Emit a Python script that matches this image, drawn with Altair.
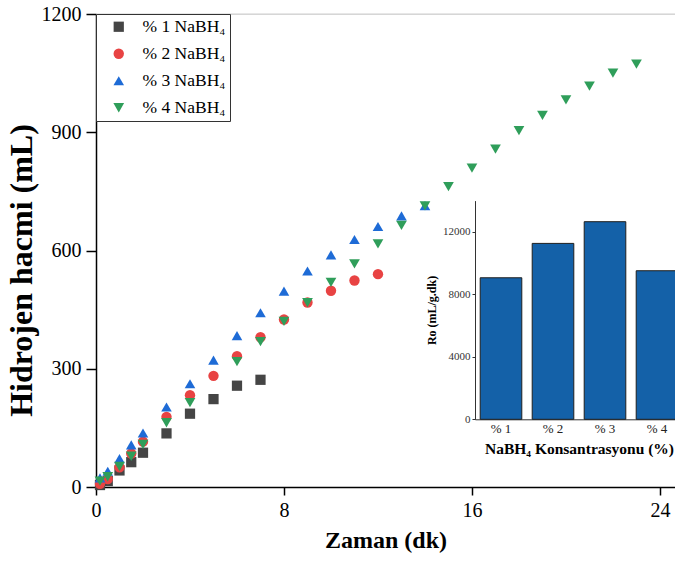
import altair as alt
import pandas as pd

# ---- main scatter data ----
labels = ["% 1 NaBH₄", "% 2 NaBH₄", "% 3 NaBH₄", "% 4 NaBH₄"]

t1 = [0.17, 0.5, 1, 1.5, 2, 3, 4, 5, 6, 7]
v1 = [5, 15, 42, 63, 87, 136, 186, 223, 257, 272]

t2 = [0.17, 0.5, 1, 1.5, 2, 3, 4, 5, 6, 7, 8, 9, 10, 11, 12]
v2 = [8, 20, 50, 85, 115, 178, 233, 282, 332, 380, 425, 468, 498, 524, 540]

t3 = [0.17, 0.5, 1, 1.5, 2, 3, 4, 5, 6, 7, 8, 9, 10, 11, 12, 13, 14]
v3 = [23, 40, 72, 107, 137, 203, 262, 322, 384, 442, 497, 548, 589, 628, 661, 688, 714]

t4 = [0.17, 0.5, 1, 1.5, 2, 3, 4, 6, 7, 8, 9, 10, 11, 12, 13, 14, 15, 16, 17, 18, 19, 20, 21, 22, 23]
v4 = [15, 26, 52, 78, 108, 163, 214, 318, 369, 420, 468, 519, 566, 617, 664, 713, 762, 809, 857, 904, 943, 982, 1017, 1050, 1073]

x_ticks = [0, 8, 16, 24]
y_ticks = [0, 300, 600, 900, 1200]

# ---- inset bar data ----
bar_cats = ["% 1", "% 2", "% 3", "% 4"]
bar_vals = [9060, 11260, 12650, 9510]
bar_ticks = [0, 4000, 8000, 12000]

rows = []
for lab, ts, vs in zip(labels, [t1, t2, t3, t4], [v1, v2, v3, v4]):
    for t, v in zip(ts, vs):
        rows.append({"t": t, "v": v, "s": lab})
df = pd.DataFrame(rows)
bar_df = pd.DataFrame({"c": bar_cats, "r": bar_vals})

W, H = 579, 473
FONT = "Liberation Serif"

shapes = ["square", "circle", "triangle-up", "triangle-down"]
colors = ["#454545", "#e84343", "#1e6bd6", "#2f9e5a"]
sizes = [105, 115, 165, 165]

legend = alt.Legend(
    title=None, orient="none", legendX=0, legendY=0,
    fillColor="white", strokeColor="#333", padding=4,
    labelFont=FONT, labelFontSize=17.5, labelColor="black",
    symbolSize=120, symbolOffset=10, labelOffset=15, rowPadding=8,
    symbolStrokeWidth=0,
)

top_line = alt.Chart(pd.DataFrame({"a": [0]})).mark_rule(color="#cfcfcf", strokeWidth=1).encode(
    x=alt.value(0), x2=alt.value(W), y=alt.value(0)
)

points = alt.Chart(df).mark_point(filled=True, opacity=1).encode(
    x=alt.X("t:Q", scale=alt.Scale(domain=[0, 24.64], nice=False),
            axis=alt.Axis(values=x_ticks, title="Zaman (dk)", grid=False, format="d",
                          labelFont=FONT, labelFontSize=20, labelColor="black",
                          labelFlush=False, labelPadding=5,
                          titleFont=FONT, titleFontSize=24, titleFontWeight="bold",
                          titleColor="black", titlePadding=8,
                          domainColor="black", domainWidth=1.5,
                          tickColor="black", tickWidth=1.5, tickSize=8)),
    y=alt.Y("v:Q", scale=alt.Scale(domain=[0, 1200], nice=False),
            axis=alt.Axis(values=y_ticks, title="Hidrojen hacmi (mL)", grid=False, format="d",
                          labelFont=FONT, labelFontSize=20, labelColor="black",
                          labelPadding=5,
                          titleFont=FONT, titleFontSize=32, titleFontWeight="bold",
                          titleColor="black", titlePadding=3, titleY=256,
                          domainColor="black", domainWidth=1.5,
                          tickColor="black", tickWidth=1.5, tickSize=10)),
    shape=alt.Shape("s:N", scale=alt.Scale(domain=labels, range=shapes), legend=legend),
    color=alt.Color("s:N", scale=alt.Scale(domain=labels, range=colors), legend=legend),
    size=alt.Size("s:N", scale=alt.Scale(domain=labels, range=sizes), legend=None),
)

bars = alt.Chart(bar_df).mark_bar(color="#1461a8", stroke="#1e1e1e", strokeWidth=1).encode(
    x=alt.X("c:N", sort=bar_cats,
            scale=alt.Scale(range=[379, 587], paddingInner=0.2, paddingOuter=0.1),
            axis=alt.Axis(orient="bottom", offset=-67.7, title="NaBH₄ Konsantrasyonu (%)",
                          labelAngle=0, labelFont=FONT, labelFontSize=13, labelColor="#222",
                          labelPadding=3, ticks=False,
                          titleFont=FONT, titleFontSize=15.5, titleFontWeight="bold",
                          titleColor="black", titlePadding=6,
                          domainColor="#333", domainWidth=1, grid=False)),
    y=alt.Y("r:Q", scale=alt.Scale(domain=[0, 14000], range=[405.3, 186.6], nice=False),
            axis=alt.Axis(orient="left", offset=-379, values=bar_ticks, title="Ro (mL/g.dk)",
                          format="d",
                          labelFont=FONT, labelFontSize=11, labelColor="#333",
                          labelPadding=2, tickSize=3, tickColor="#333",
                          titleFont=FONT, titleFontSize=12, titleFontWeight="bold",
                          titleColor="black", titlePadding=4,
                          domainColor="#333", domainWidth=1, grid=False)),
)

chart = alt.layer(top_line, points, bars).resolve_scale(
    x="independent", y="independent"
).properties(
    width=W, height=H,
    autosize=alt.AutoSizeParams(type="none"),
    padding={"left": 96, "top": 14, "right": 0, "bottom": 83},
).configure_view(stroke=None).configure(background="white")

chart.save("out.html", embed_options={"renderer": "svg", "actions": False})
